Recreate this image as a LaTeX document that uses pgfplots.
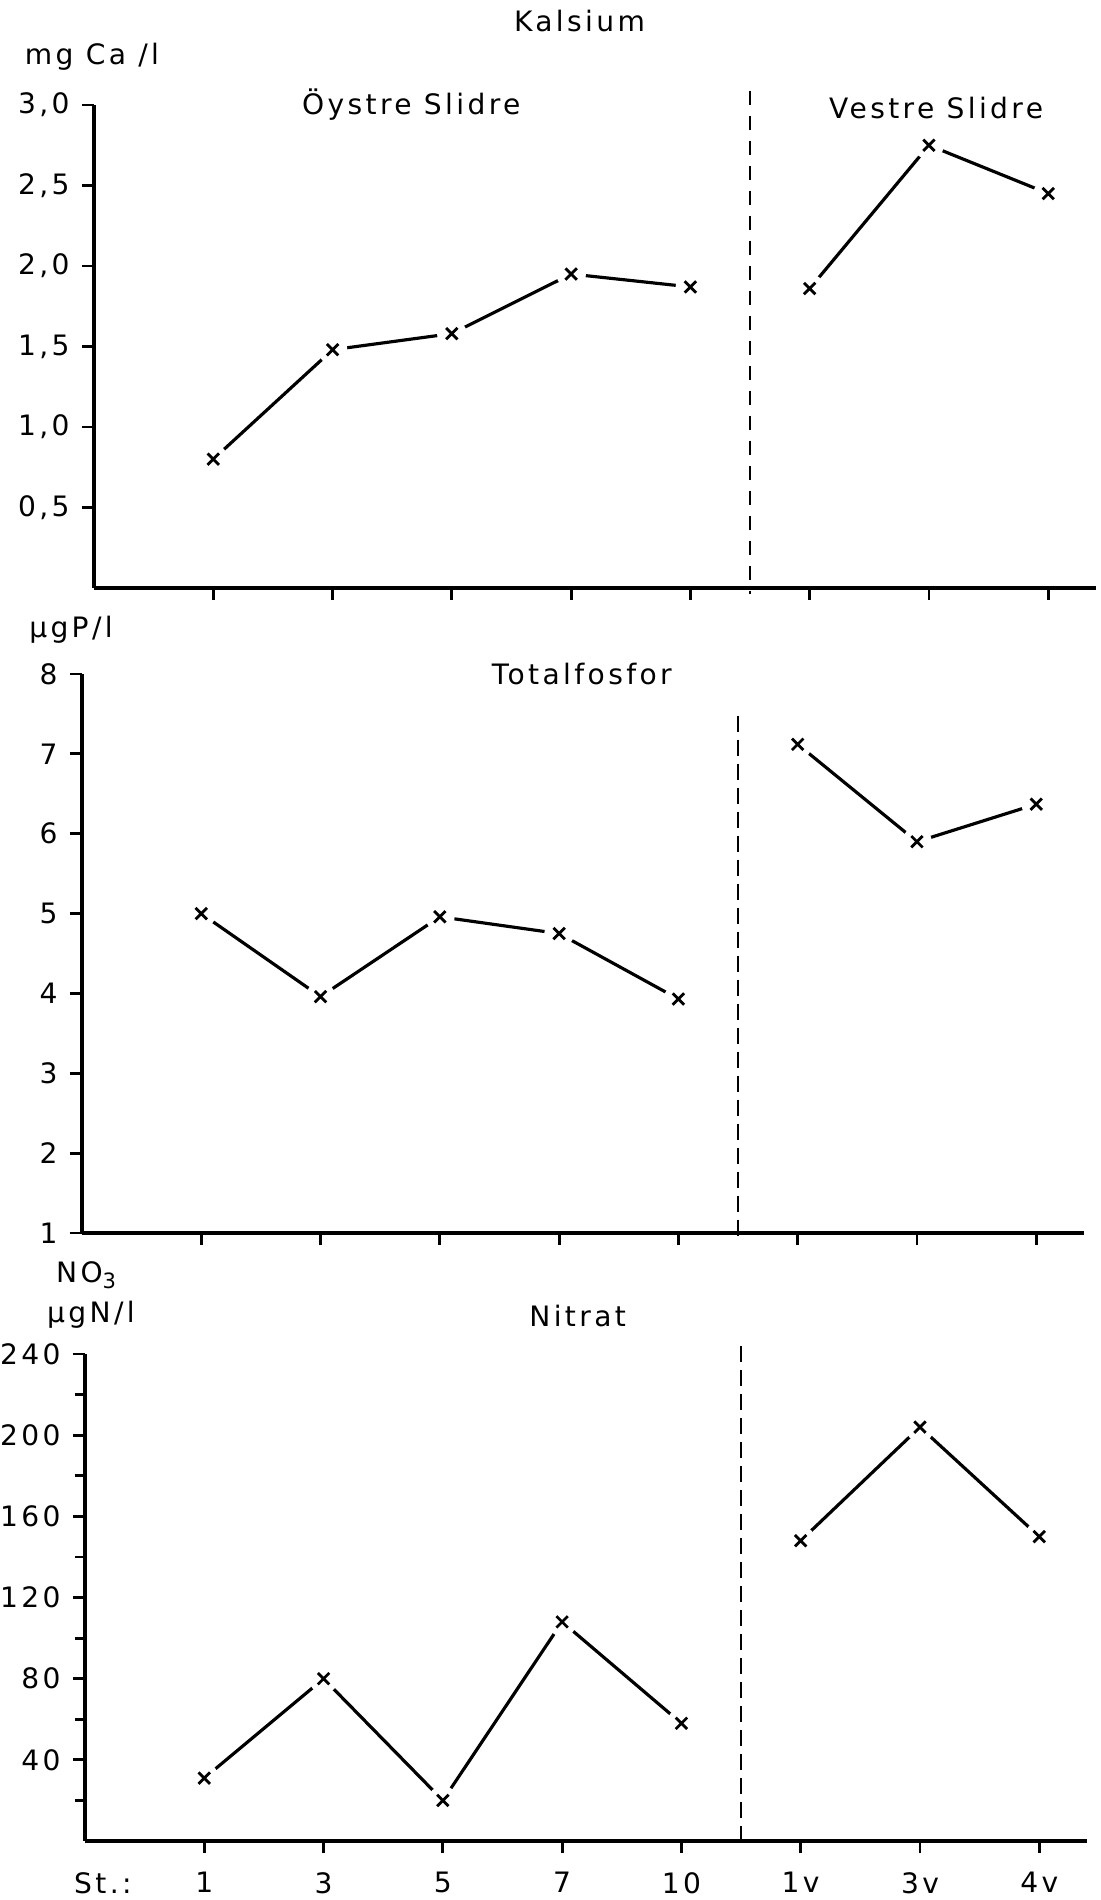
\documentclass[border=0pt]{standalone}
\usepackage{fontspec}
\setmainfont[LetterSpace=12]{DejaVu Sans}
\usepackage{pgfplots}
\usepackage{pgfplotstable}
\pgfplotsset{compat=1.18}
\newcommand\lab{\fontsize{8}{9.6}\selectfont}

% station values, nan row splits Oystre / Vestre Slidre
\pgfplotstableread{
x y
1 0.80
2 1.48
3 1.58
4 1.95
5 1.87
5.5 nan
6 1.86
7 2.75
8 2.45
}\ca
\pgfplotstableread{
x y
1 5.00
2 3.96
3 4.96
4 4.75
5 3.93
5.5 nan
6 7.12
7 5.90
8 6.37
}\tp
\pgfplotstableread{
x y
1 31
2 80
3 20
4 108
5 58
5.5 nan
6 148
7 204
8 150
}\no

\pgfplotsset{
  panel/.style={
    scale only axis, width=10.02cm, xmin=0, xmax=8.4,
    axis lines=left, axis line style={-, line width=0.9pt},
    tick align=outside, major tick length=0.12cm, minor tick length=0.1cm,
    tick style={line width=0.8pt, black},
    xtick={1,...,8}, xticklabels={},
    tick label style={font=\lab},
    /pgf/number format/assume math mode=true,
    unbounded coords=jump,
    clip=false,
  },
  ser/.style={black, line width=0.9pt, mark=none},
  gap/.style={only marks, mark=*, mark size=4pt, white},
  cross/.style={only marks, mark=x, mark size=2.3pt, black, mark options={line width=0.8pt}},
}

\begin{document}
\begin{tikzpicture}
\useasboundingbox (0,0) rectangle (11,-19);

% Kalsium
\begin{axis}[panel, at={(0.94cm,-5.88cm)}, anchor=south west, height=4.83cm,
  ymin=0, ymax=3, ytick={0.5,1,...,3},
  yticklabel style={/pgf/number format/.cd, fixed, fixed zerofill, precision=1, use comma}]
  \addplot[ser] table[x=x,y=y] {\ca};
  \addplot[gap] table[x=x,y=y] {\ca};
  \addplot[cross] table[x=x,y=y] {\ca};
  \draw[dash pattern=on 0.14cm off 0.11cm, line width=0.7pt] (axis cs:5.5,3.09) -- (axis cs:5.5,-0.04);
  \node[font=\lab] at (axis cs:4.07,3) [yshift=0.84cm] {Kalsium};
  \node[font=\lab] at (rel axis cs:0,1) [xshift=-0.02cm, yshift=0.48cm] {mg Ca /l};
  \node[font=\lab] at (axis cs:2.66,3) {Öystre Slidre};
  \node[font=\lab] at (axis cs:7.06,2.98) {Vestre Slidre};
\end{axis}

% Totalfosfor
\begin{axis}[panel, at={(0.82cm,-12.33cm)}, anchor=south west, height=5.59cm,
  ymin=1, ymax=8, ytick={1,...,8}]
  \addplot[ser] table[x=x,y=y] {\tp};
  \addplot[gap] table[x=x,y=y] {\tp};
  \addplot[cross] table[x=x,y=y] {\tp};
  \draw[dash pattern=on 0.16cm off 0.08cm, line width=0.7pt] (axis cs:5.5,7.48) -- (axis cs:5.5,0.94);
  \node[font=\lab] at (rel axis cs:0,1) [xshift=-0.11cm, yshift=0.44cm] {µgP/l};
  \node[font=\lab] at (axis cs:4.19,8) {Totalfosfor};
\end{axis}

% Nitrat
\begin{axis}[panel, at={(0.85cm,-18.41cm)}, anchor=south west, height=4.87cm,
  ymin=0, ymax=240, ytick={40,80,...,240}, minor ytick={20,60,...,220},
  xticklabels={1,3,5,7,10,1v,3v,4v},
  xticklabel style={yshift=-0.07cm},
  extra x ticks={0.15}, extra x tick labels={St.:},
  extra x tick style={tick style={draw=none}}]
  \addplot[ser] table[x=x,y=y] {\no};
  \addplot[gap] table[x=x,y=y] {\no};
  \addplot[cross] table[x=x,y=y] {\no};
  \draw[dash pattern=on 0.16cm off 0.08cm, line width=0.7pt] (axis cs:5.5,244) -- (axis cs:5.5,0);
  \node[font=\lab] at (rel axis cs:0,1) [xshift=0.02cm, yshift=0.79cm] {NO\textsubscript{3}};
  \node[font=\lab] at (rel axis cs:0,1) [xshift=0.06cm, yshift=0.39cm] {µgN/l};
  \node[font=\lab] at (axis cs:4.13,240) [yshift=0.38cm] {Nitrat};
\end{axis}
\end{tikzpicture}
\end{document}
